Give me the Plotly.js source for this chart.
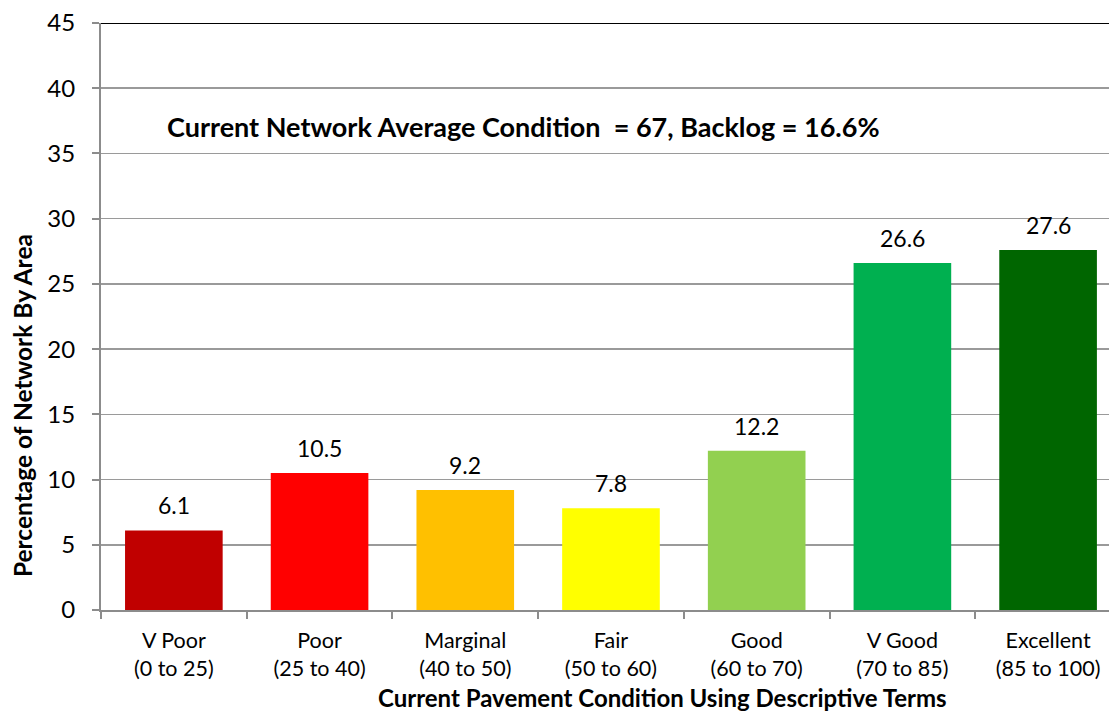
<!DOCTYPE html>
<html>
<head>
<meta charset="utf-8">
<script src="https://cdn.plot.ly/plotly-3.0.1.min.js"></script>
<style>html,body{margin:0;padding:0;background:#fff;}#chart{width:1109px;height:712px;}</style>
</head>
<body>
<div id="chart"></div>
<script>
const categories = ["V Poor<br>(0 to 25)", "Poor<br>(25 to 40)", "Marginal<br>(40 to 50)", "Fair<br>(50 to 60)", "Good<br>(60 to 70)", "V Good<br>(70 to 85)", "Excellent<br>(85 to 100)"];
const values = [6.1, 10.5, 9.2, 7.8, 12.2, 26.6, 27.6];
const barColors = ["#C00000", "#FF0000", "#FFC000", "#FFFF00", "#92D050", "#00B050", "#006600"];
const yTicks = [0, 5, 10, 15, 20, 25, 30, 35, 40, 45];
const noteText = "Current Network Average Condition  = 67, Backlog = 16.6%";
const xTitle = "Current Pavement Condition Using Descriptive Terms";
const yTitle = "Percentage of Network By Area";

const FONT = "Lato, 'Open Sans', sans-serif";

const trace = {
  type: "bar",
  x: categories,
  y: values,
  marker: {color: barColors, line: {width: 0}},
  width: 0.67,
  hoverinfo: "skip"
};

const valueLabels = categories.map((c, i) => ({
  text: values[i].toFixed(1), x: c, y: values[i], xref: "x", yref: "y",
  xanchor: "center", yanchor: "bottom", yshift: 9, showarrow: false,
  font: {family: FONT, size: 23, color: "#000"}
}));

const layout = {
  width: 1109, height: 712,
  margin: {l: 101, r: 0, t: 23, b: 102},
  paper_bgcolor: "#fff", plot_bgcolor: "#fff",
  showlegend: false,
  font: {family: FONT, color: "#000"},
  xaxis: {
    type: "category",
    categoryorder: "array", categoryarray: categories,
    range: [-0.5, 6.418],
    tickson: "boundaries",
    ticks: "outside", ticklen: 7, tickcolor: "#8c8c8c", tickwidth: 2,
    showline: true, linecolor: "#8c8c8c", linewidth: 2,
    showgrid: false, zeroline: false,
    tickfont: {family: FONT, size: 21.5, color: "#000"},
    ticklabelstandoff: 10
  },
  yaxis: {
    range: [0, 45], tickvals: yTicks, ticktext: yTicks.map(String),
    ticks: "outside", ticklen: 7, tickcolor: "#8c8c8c", tickwidth: 2,
    showline: true, linecolor: "#8c8c8c", linewidth: 2,
    showgrid: true, gridcolor: "#9a9a9a", gridwidth: 1.5,
    zeroline: false,
    tickfont: {family: FONT, size: 24, color: "#000"},
    ticklabelstandoff: 12
  },
  shapes: [{
    type: "line", xref: "paper", yref: "y", x0: 0, x1: 1, y0: 45, y1: 45,
    line: {color: "#000", width: 2}
  }],
  annotations: valueLabels.concat([
    {text: "<b>" + noteText + "</b>", xref: "paper", yref: "paper", x: 0.4196, y: 0.823,
     xanchor: "center", yanchor: "middle", showarrow: false, font: {family: FONT, size: 27, color: "#000"}},
    {text: "<b>" + xTitle + "</b>", xref: "paper", yref: "paper", x: 0.5575, y: 0,
     xanchor: "center", yanchor: "middle", yshift: -87, showarrow: false, font: {family: FONT, size: 24, color: "#000"}},
    {text: "<b>" + yTitle + "</b>", xref: "paper", yref: "paper", x: -0.0784, y: 0.349,
     xanchor: "center", yanchor: "middle", textangle: -90, showarrow: false, font: {family: FONT, size: 24.5, color: "#000"}}
  ])
};

Plotly.newPlot("chart", [trace], layout, {staticPlot: true, displayModeBar: false});
</script>
</body>
</html>
